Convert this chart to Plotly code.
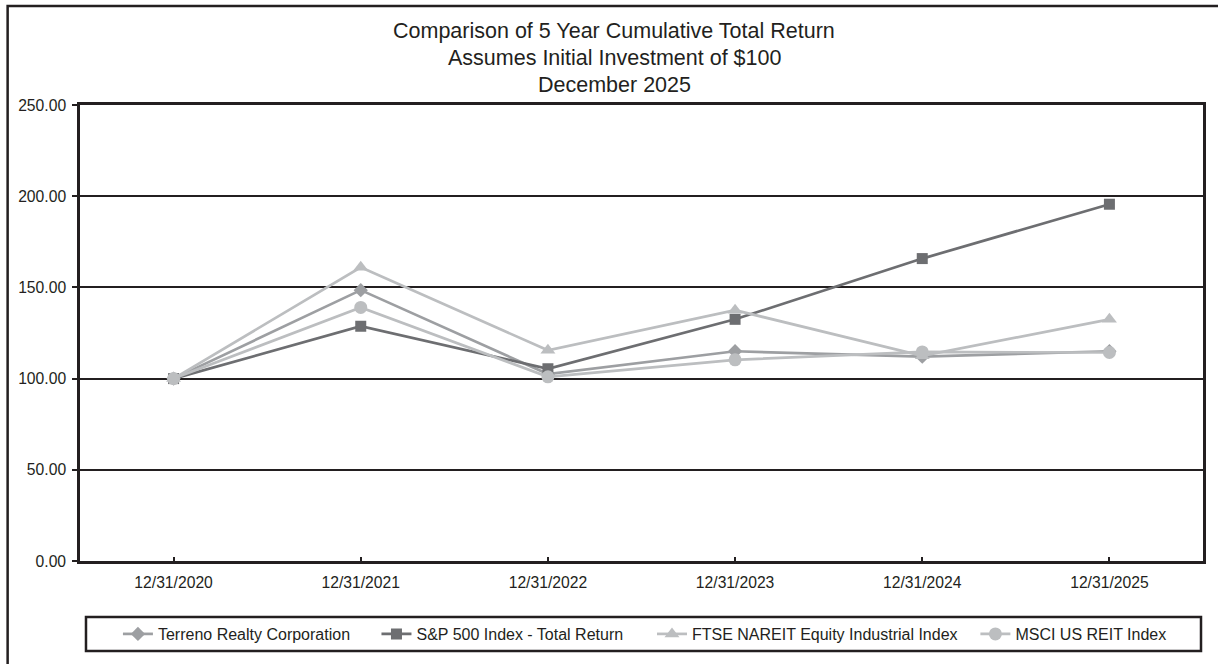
import plotly.graph_objects as go

dates = ["12/31/2020", "12/31/2021", "12/31/2022", "12/31/2023", "12/31/2024", "12/31/2025"]
terreno = [100.0, 148.5, 102.5, 115.0, 112.0, 115.0]
sp500 = [100.0, 128.7, 105.4, 132.5, 165.8, 195.6]
ftse = [100.0, 161.0, 115.5, 137.5, 112.5, 132.5]
msci = [100.0, 139.0, 101.0, 110.3, 114.6, 114.3]

names = ["Terreno Realty Corporation", "S&P 500 Index - Total Return",
         "FTSE NAREIT Equity Industrial Index", "MSCI US REIT Index"]
title_lines = ["Comparison of 5 Year Cumulative Total Return",
               "Assumes Initial Investment of $100",
               "December 2025"]
y_ticks = [0, 50, 100, 150, 200, 250]

W, H = 1218, 664
L, R, T, B = 80, 1205, 105, 561
pw, ph = R - L, B - T

def px(x):
    return (x - L) / pw

def py(y):
    return (B - y) / ph

FONT = "Arial, Liberation Sans, sans-serif"
TXT = "#231f20"

# legend text start positions (pixels) for each entry
legend_text_x = [158, 417, 693, 1017]

fig = go.Figure()
series = [
    (terreno, names[0], "#9d9fa2", "diamond", 11),
    (sp500, names[1], "#6d6e71", "square", 11),
    (ftse, names[2], "#bcbec0", "triangle-up", 13),
    (msci, names[3], "#bcbec0", "circle", 13),
]
leg_ids = ["legend", "legend2", "legend3", "legend4"]
for (vals, nm, col, sym, sz), lid in zip(series, leg_ids):
    fig.add_trace(go.Scatter(
        x=dates, y=vals, name=nm, mode="lines+markers",
        line=dict(color=col, width=2.7),
        marker=dict(symbol=sym, size=sz, color=col),
        legend=lid,
    ))

annotations = []
for i, t in enumerate(title_lines):
    annotations.append(dict(
        text=t, xref="paper", yref="paper", x=px(615), y=py(30.5 + 27.5 * i),
        xanchor="center", yanchor="middle", showarrow=False,
        font=dict(family=FONT, size=21.5, color=TXT),
    ))

shapes = [
    # outer frame
    dict(type="rect", xref="paper", yref="paper",
         x0=px(7.5), x1=px(1240), y0=py(6), y1=py(700),
         line=dict(color=TXT, width=2.5), fillcolor="rgba(0,0,0,0)", layer="below"),
    # legend box
    dict(type="rect", xref="paper", yref="paper",
         x0=px(86), x1=px(1203), y0=py(617), y1=py(651),
         line=dict(color=TXT, width=2.5), fillcolor="white", layer="below"),
]

legends = {}
for lid, tx in zip(leg_ids, legend_text_x):
    legends[lid] = dict(orientation="h", xanchor="left", yanchor="middle",
                        x=px(tx - 40), y=py(634), bgcolor="rgba(0,0,0,0)",
                        borderwidth=0,
                        font=dict(family=FONT, size=16, color=TXT))

fig.update_layout(
    width=W, height=H,
    margin=dict(l=L, r=W - R, t=T, b=H - B, pad=0),
    paper_bgcolor="white", plot_bgcolor="white",
    font=dict(family=FONT, size=15.7, color=TXT),
    showlegend=True,
    annotations=annotations,
    shapes=shapes,
    xaxis=dict(type="category", range=[-0.5, 5.5], showgrid=False,
               showline=True, mirror=True,
               linecolor=TXT, linewidth=2.5, ticks="inside", ticklen=4,
               tickwidth=1.5, tickcolor=TXT, ticklabelstandoff=5,
               tickfont=dict(family=FONT, size=15.7, color=TXT)),
    yaxis=dict(range=[0, 250], tickvals=y_ticks, tickformat=".2f",
               showgrid=True, gridcolor=TXT, gridwidth=2.2,
               zeroline=False, showline=True, mirror=True,
               linecolor=TXT, linewidth=2.5, ticks="outside", ticklen=5,
               tickwidth=1.5, tickcolor=TXT, ticklabelstandoff=3,
               tickfont=dict(family=FONT, size=15.7, color=TXT)),
    **legends,
)

fig.write_html("out.html")
